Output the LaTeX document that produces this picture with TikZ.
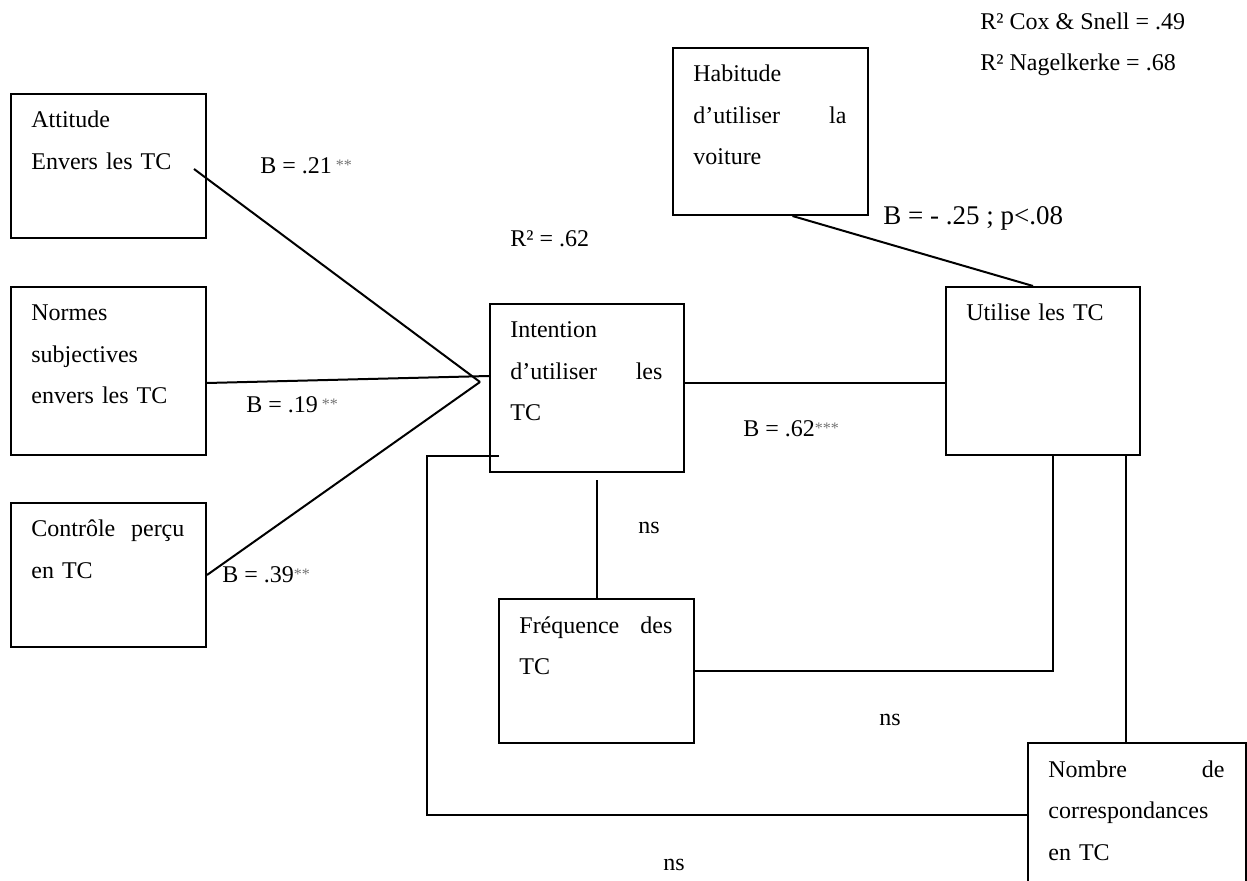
\documentclass[tikz,border=0pt]{standalone}
\usepackage{fontspec}
\setmainfont{Liberation Serif}
\usepackage{tikz}
\usetikzlibrary{calc}
\tikzset{
  boite/.style={draw, line width=1pt, anchor=north west, inner sep=0pt},
  texte/.style={anchor=base west, inner sep=0pt, align=left, font=\fontsize{12}{20.75}\selectfont},
  coef/.style={anchor=base west, inner sep=0pt, font=\fontsize{12}{14}\selectfont},
  lien/.style={line width=1pt}
}
\newcommand{\etoiles}[1]{{\fontsize{8}{8}\selectfont\color{black!55}\raisebox{1.5pt}{#1}}}
\newcommand{\boite}[6]{ \pgfmathsetlengthmacro{\largeur}{(#4-42)*0.5pt}
  \node[boite, minimum width=#4*0.5pt, minimum height=#5*0.5pt] (#1) at ( #2 , #3 ) {};
  \node[texte, text width=\largeur] (#1-t) at ($(#1.north west)+(21,35)$) {#6};}

\begin{document}
\begin{tikzpicture}[x=0.5pt, y=-0.5pt]
\useasboundingbox (0,0) rectangle (1247,881);
\clip (0,0) rectangle (1247,881);
% left column of boxes
\boite{att}{10}{93}{195}{144}{Attitude\\Envers les TC}
\boite{nor}{10}{286}{195}{168}{Normes\\subjectives\\envers les TC}
\boite{con}{10}{502}{195}{144}{Contrôle \hfill perçu\\en TC}
% middle and right boxes
\boite{hab}{672}{47}{195}{167}{Habitude\\d’utiliser \hfill la\\voiture}
\boite{int}{489}{303}{194}{168}{Intention\\d’utiliser \hfill les\\TC}
\boite{uti}{945}{286}{194}{168}{Utilise les TC}
\boite{fre}{498}{598}{195}{144}{Fréquence \hfill des\\TC}
\boite{nom}{1027}{742}{218}{144}{Nombre \hfill de\\correspondances\\en TC}
% points where the lines meet
\coordinate (att-s) at ($(att.east)+(-13,3)$);
\coordinate (conv) at ($(int.west)+(-9,-6)$);
\coordinate (r) at ($(int.east)+(0,-5)$);
\coordinate (f1) at ($(int.south)+(0,7)$);
\coordinate (u1) at ($(uti.south)+(10,0)$);
\coordinate (u2) at ($(uti.south east)+(-15,0)$);
% lines towards the intention
\draw[lien] (att-s) -- (conv);
\draw[lien] ($(nor.east)+(0,12)$) -- ($(int.west)+(0,-12)$);
\draw[lien] (con.east) -- (conv);
% lines towards the use
\draw[lien] (r) -- (r -| uti.west);
\draw[lien] ($(hab.south)+(22,0)$) -- ($(uti.north)+(-10,0)$);
\draw[lien] (fre.north) -- (fre.north |- f1);
\draw[lien] (fre.east) -| (u1);
\draw[lien] (u2) -- (u2 |- nom.north);
\draw[lien] ($(int.south west)+(10,-17)$) -- ++(-72,0) |- (nom.west);
% coefficients
\node[coef] (b21) at (260,174) {B = .21\,\etoiles{**}};
\node[coef] (b19) at (246,413) {B = .19\,\etoiles{**}};
\node[coef] (b39) at (222,582) {B = .39\etoiles{**}};
\node[coef] (b62) at (743,437) {B = .62\etoiles{***}};
\node[coef, font=\fontsize{13.5}{16}\selectfont] (b25) at (883,225) {B = - .25 ; p<.08};
\node[coef] (r62) at (510,247) {R² = .62};
\node[coef] (rcox) at (980,30) {R² Cox \& Snell = .49};
\node[coef] (rnag) at (980,71) {R² Nagelkerke = .68};
\node[coef] (ns1) at (638,534) {ns};
\node[coef] (ns2) at (879,725) {ns};
\node[coef] (ns3) at (663,870) {ns};
\end{tikzpicture}
\end{document}
